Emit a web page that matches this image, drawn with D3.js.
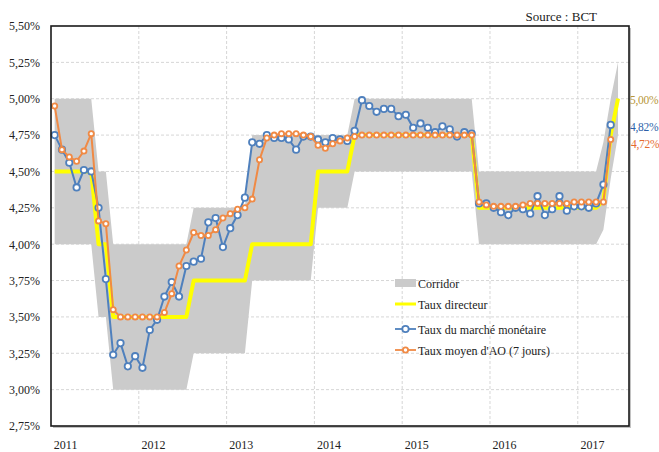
<!DOCTYPE html>
<html>
<head>
<meta charset="utf-8">
<script src="https://cdn.jsdelivr.net/npm/d3@7"></script>
<style>
  html, body { margin: 0; padding: 0; background: #fff; }
  svg { display: block; font-family: "Liberation Serif", "DejaVu Serif", serif; }
</style>
</head>
<body>
<svg id="chart" width="659" height="452"></svg>
<script>
// Monthly categories: Jan 2011 .. Jul 2017
const months = d3.timeMonth.range(new Date(2011, 0, 1), new Date(2017, 7, 1)).map(d3.timeFormat("%Y-%m"));

const yearLabels = ["2011", "2012", "2013", "2014", "2015", "2016", "2017"];
const yTicks = [2.75, 3.00, 3.25, 3.50, 3.75, 4.00, 4.25, 4.50, 4.75, 5.00, 5.25, 5.50];

// Taux directeur (policy rate), monthly, Jan 2011 .. Jun 2017
const tauxDirecteur = [
  4.50, 4.50, 4.50, 4.50, 4.50, 4.50, 4.00, 4.00, 3.50, 3.50, 3.50, 3.50,
  3.50, 3.50, 3.50, 3.50, 3.50, 3.50, 3.50, 3.75, 3.75, 3.75, 3.75, 3.75,
  3.75, 3.75, 3.75, 4.00, 4.00, 4.00, 4.00, 4.00, 4.00, 4.00, 4.00, 4.00,
  4.50, 4.50, 4.50, 4.50, 4.50, 4.75, 4.75, 4.75, 4.75, 4.75, 4.75, 4.75,
  4.75, 4.75, 4.75, 4.75, 4.75, 4.75, 4.75, 4.75, 4.75, 4.75, 4.25, 4.25,
  4.25, 4.25, 4.25, 4.25, 4.25, 4.25, 4.25, 4.25, 4.25, 4.25, 4.25, 4.25,
  4.25, 4.25, 4.25, 4.30, 4.75, 5.00
];

// Corridor bounds (facilité de dépôt / prêt marginal)
const corridorBas = [
  4.00, 4.00, 4.00, 4.00, 4.00, 4.00, 3.50, 3.50, 3.00, 3.00, 3.00, 3.00,
  3.00, 3.00, 3.00, 3.00, 3.00, 3.00, 3.00, 3.25, 3.25, 3.25, 3.25, 3.25,
  3.25, 3.25, 3.25, 3.75, 3.75, 3.75, 3.75, 3.75, 3.75, 3.75, 3.75, 3.75,
  4.25, 4.25, 4.25, 4.25, 4.25, 4.50, 4.50, 4.50, 4.50, 4.50, 4.50, 4.50,
  4.50, 4.50, 4.50, 4.50, 4.50, 4.50, 4.50, 4.50, 4.50, 4.50, 4.00, 4.00,
  4.00, 4.00, 4.00, 4.00, 4.00, 4.00, 4.00, 4.00, 4.00, 4.00, 4.00, 4.00,
  4.00, 4.00, 4.00, 4.10, 4.45, 4.75
];
const corridorHaut = [
  5.00, 5.00, 5.00, 5.00, 5.00, 5.00, 4.50, 4.50, 4.00, 4.00, 4.00, 4.00,
  4.00, 4.00, 4.00, 4.00, 4.00, 4.00, 4.00, 4.25, 4.25, 4.25, 4.25, 4.25,
  4.25, 4.25, 4.25, 4.75, 4.75, 4.75, 4.75, 4.75, 4.75, 4.75, 4.75, 4.75,
  4.75, 4.75, 4.75, 4.75, 4.75, 5.00, 5.00, 5.00, 5.00, 5.00, 5.00, 5.00,
  5.00, 5.00, 5.00, 5.00, 5.00, 5.00, 5.00, 5.00, 5.00, 5.00, 4.50, 4.50,
  4.50, 4.50, 4.50, 4.50, 4.50, 4.50, 4.50, 4.50, 4.50, 4.50, 4.50, 4.50,
  4.50, 4.50, 4.50, 4.70, 5.00, 5.25
];

// Taux du marché monétaire, Jan 2011 .. May 2017
const tauxMarche = [
  4.75, 4.65, 4.56, 4.39, 4.51, 4.50, 4.25, 3.76, 3.24, 3.32, 3.16, 3.23,
  3.15, 3.41, 3.48, 3.64, 3.74, 3.64, 3.85, 3.88, 3.90, 4.15, 4.18, 3.98,
  4.11, 4.20, 4.32, 4.70, 4.69, 4.75, 4.73, 4.73, 4.72, 4.65, 4.74, 4.74,
  4.72, 4.70, 4.73, 4.72, 4.71, 4.78, 4.99, 4.95, 4.91, 4.93, 4.93, 4.88,
  4.89, 4.80, 4.83, 4.80, 4.77, 4.81, 4.79, 4.74, 4.77, 4.76, 4.28, 4.28,
  4.25, 4.22, 4.20, 4.25, 4.24, 4.21, 4.33, 4.20, 4.24, 4.33, 4.23, 4.26,
  4.26, 4.25, 4.28, 4.41, 4.82
];

// Taux moyen d'appel d'offres (7 jours), Jan 2011 .. May 2017
const tauxAO = [
  4.95, 4.65, 4.60, 4.57, 4.64, 4.76, 4.16, 4.14, 3.55, 3.50, 3.50, 3.50,
  3.50, 3.50, 3.50, 3.53, 3.66, 3.85, 3.96, 4.08, 4.06, 4.06, 4.10, 4.18,
  4.21, 4.24, 4.25, 4.31, 4.58, 4.73, 4.75, 4.76, 4.76, 4.76, 4.75, 4.74,
  4.68, 4.66, 4.69, 4.71, 4.73, 4.74, 4.75, 4.75, 4.75, 4.75, 4.75, 4.75,
  4.75, 4.75, 4.75, 4.75, 4.75, 4.75, 4.75, 4.75, 4.75, 4.75, 4.29, 4.27,
  4.26, 4.26, 4.26, 4.26, 4.27, 4.28, 4.28, 4.28, 4.28, 4.28, 4.28, 4.29,
  4.29, 4.29, 4.29, 4.29, 4.72
];

const COLORS = {
  corridor: "#cbcbcb",
  directeur: "#ffff00",
  marche: "#4f80bd",
  ao: "#f08a45",
  grid: "#d6d6d6",
  labDirecteur: "#b8973a",
  labMarche: "#2d5fa8",
  labAO: "#e56a2e"
};

const svg = d3.select("#chart");
const plotL = 51, plotR = 629, plotT = 26, plotB = 426;

const x = d3.scalePoint().domain(months).range([plotL, plotR]).padding(0.5);
const step = x.step();
const y = d3.scaleLinear().domain([2.75, 5.5]).range([plotB, plotT]);

const fmtPct = d => d3.format(".2f")(d).replace(".", ",") + "%";

// Plot frame with a soft shadow
svg.append("rect").attr("x", plotL + 2).attr("y", plotT + 2)
  .attr("width", plotR - plotL).attr("height", plotB - plotT)
  .attr("fill", "#9a9a9a").attr("opacity", 0.6);
svg.append("rect").attr("x", plotL).attr("y", plotT)
  .attr("width", plotR - plotL).attr("height", plotB - plotT)
  .attr("fill", "#fff");

// Grid
const grid = svg.append("g");
grid.selectAll("line.h").data(yTicks.filter(v => v > 2.75 && v < 5.5)).join("line")
  .attr("x1", plotL).attr("x2", plotR)
  .attr("y1", d => y(d)).attr("y2", d => y(d))
  .attr("stroke", COLORS.grid).attr("stroke-dasharray", "3,2").attr("stroke-width", 1);
const yearStarts = months.filter((m, i) => i > 0 && m.endsWith("-01"));
grid.selectAll("line.v").data(yearStarts).join("line")
  .attr("x1", d => x(d) - step / 2).attr("x2", d => x(d) - step / 2)
  .attr("y1", plotT).attr("y2", plotB)
  .attr("stroke", COLORS.grid).attr("stroke-dasharray", "3,2").attr("stroke-width", 1);

// Corridor band
const corridorData = corridorBas.map((b, i) => ({ m: months[i], lo: b, hi: corridorHaut[i] }));
svg.append("path").datum(corridorData)
  .attr("fill", COLORS.corridor)
  .attr("d", d3.area().x(d => x(d.m)).y0(d => y(d.lo)).y1(d => y(d.hi)));

// Policy rate
const line = d3.line().x(d => x(d.m)).y(d => y(d.v));
const toPts = arr => arr.map((v, i) => ({ m: months[i], v }));

svg.append("path").datum(toPts(tauxDirecteur))
  .attr("fill", "none").attr("stroke", COLORS.directeur)
  .attr("stroke-width", 4).attr("stroke-linejoin", "round")
  .attr("d", line);

// Money market rate
svg.append("path").datum(toPts(tauxMarche))
  .attr("fill", "none").attr("stroke", COLORS.marche).attr("stroke-width", 2)
  .attr("d", line);
svg.append("g").selectAll("circle").data(toPts(tauxMarche)).join("circle")
  .attr("cx", d => x(d.m)).attr("cy", d => y(d.v)).attr("r", 3.2)
  .attr("fill", "#fff").attr("stroke", COLORS.marche).attr("stroke-width", 1.8);

// 7-day tender rate
svg.append("path").datum(toPts(tauxAO))
  .attr("fill", "none").attr("stroke", COLORS.ao).attr("stroke-width", 2)
  .attr("d", line);
svg.append("g").selectAll("circle").data(toPts(tauxAO)).join("circle")
  .attr("cx", d => x(d.m)).attr("cy", d => y(d.v)).attr("r", 2.6)
  .attr("fill", "#fff").attr("stroke", COLORS.ao).attr("stroke-width", 1.8);

// Frame border
svg.append("rect").attr("x", plotL).attr("y", plotT)
  .attr("width", plotR - plotL).attr("height", plotB - plotT)
  .attr("fill", "none").attr("stroke", "#1a1a1a").attr("stroke-width", 1.6);

// Y axis
const yAxis = svg.append("g").attr("transform", `translate(${plotL},0)`)
  .call(d3.axisLeft(y).tickValues(yTicks).tickFormat(fmtPct).tickSize(0).tickPadding(11));
yAxis.select(".domain").remove();
yAxis.selectAll("text").attr("font-size", 12).attr("fill", "#222")
  .attr("font-family", "Liberation Serif, serif");

// X axis: year labels
const yearPos = yearLabels.map((yr, k) => x(months[k * 12]) + step * 1.5);
svg.append("g").selectAll("text").data(yearLabels).join("text")
  .attr("x", (d, k) => yearPos[k]).attr("y", 449)
  .attr("text-anchor", "middle").attr("font-size", 12).attr("fill", "#222")
  .text(d => d);

// Source
svg.append("text").attr("x", 597).attr("y", 21).attr("text-anchor", "end")
  .attr("font-size", 13).attr("fill", "#222").text("Source : BCT");

// End value labels
const lastD = tauxDirecteur[tauxDirecteur.length - 1];
const lastM = tauxMarche[tauxMarche.length - 1];
const lastA = tauxAO[tauxAO.length - 1];
const endLab = svg.append("g").attr("font-size", 11.5).attr("letter-spacing", -0.3);
endLab.append("text").attr("x", 630).attr("y", y(lastD) + 5)
  .attr("fill", COLORS.labDirecteur).text(fmtPct(lastD));
endLab.append("text").attr("x", 630).attr("y", y(lastM) + 6.5)
  .attr("fill", COLORS.labMarche).text(fmtPct(lastM));
endLab.append("text").attr("x", 631).attr("y", y(lastA) + 8.5)
  .attr("fill", COLORS.labAO).text(fmtPct(lastA));

// Legend
const lg = svg.append("g");
const lx0 = 395, lx1 = 416, tx = 418;
const rows = [
  { label: "Corridor", y: 283, kind: "area" },
  { label: "Taux directeur", y: 304, kind: "directeur" },
  { label: "Taux du marché monétaire", y: 329, kind: "marche" },
  { label: "Taux moyen d'AO (7 jours)", y: 350, kind: "ao" }
];
rows.forEach(r => {
  if (r.kind === "area") {
    lg.append("rect").attr("x", lx0).attr("y", r.y - 4).attr("width", lx1 - lx0).attr("height", 8)
      .attr("fill", COLORS.corridor);
  } else if (r.kind === "directeur") {
    lg.append("line").attr("x1", lx0).attr("x2", lx1).attr("y1", r.y).attr("y2", r.y)
      .attr("stroke", COLORS.directeur).attr("stroke-width", 3);
  } else {
    const c = COLORS[r.kind];
    lg.append("line").attr("x1", lx0).attr("x2", lx1).attr("y1", r.y).attr("y2", r.y)
      .attr("stroke", c).attr("stroke-width", 1.8);
    lg.append("circle").attr("cx", (lx0 + lx1) / 2).attr("cy", r.y)
      .attr("r", r.kind === "marche" ? 3.2 : 2.6)
      .attr("fill", "#fff").attr("stroke", c).attr("stroke-width", 1.8);
  }
  lg.append("text").attr("x", tx).attr("y", r.y + 4.5).attr("font-size", 12).attr("fill", "#222")
    .text(r.label);
});
</script>
</body>
</html>
